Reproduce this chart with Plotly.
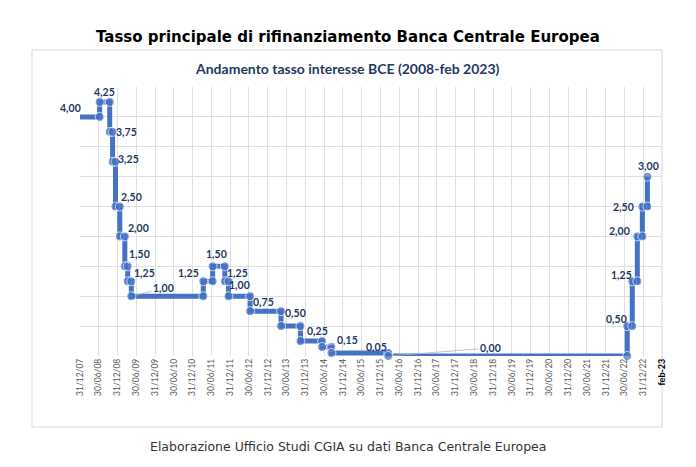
import pandas as pd
import plotly.graph_objects as go

# ---- data ----
start_date = "2007-12-31"
start_rate = 4.00
change_dates = ["2008-07-09", "2008-10-15", "2008-11-12", "2008-12-10", "2009-01-21",
                "2009-03-11", "2009-04-08", "2009-05-13", "2011-04-13", "2011-07-13",
                "2011-11-09", "2011-12-14", "2012-07-11", "2013-05-08", "2013-11-13",
                "2014-06-11", "2014-09-10", "2016-03-16", "2022-07-27", "2022-09-14",
                "2022-11-02", "2022-12-21", "2023-02-08"]
rates = [4.25, 3.75, 3.25, 2.50, 2.00, 1.50, 1.25, 1.00, 1.25, 1.50,
         1.25, 1.00, 0.75, 0.50, 0.25, 0.15, 0.05, 0.00, 0.50, 1.25,
         2.00, 2.50, 3.00]
tick_labels = ["31/12/07", "30/06/08", "31/12/08", "30/06/09", "31/12/09", "30/06/10",
               "31/12/10", "30/06/11", "31/12/11", "30/06/12", "31/12/12", "30/06/13",
               "31/12/13", "30/06/14", "31/12/14", "30/06/15", "31/12/15", "30/06/16",
               "31/12/16", "30/06/17", "31/12/17", "30/06/18", "31/12/18", "30/06/19",
               "31/12/19", "30/06/20", "31/12/20", "30/06/21", "31/12/21", "30/06/22",
               "31/12/22"]
end_label = "feb-23"
end_tick_date = "2023-06-30"

# ---- label styling (pixel offsets, leader line flag) ----
start_label_offset = (-10, -9)
label_offsets = [(5, -10), (17, 0), (16, -3), (16, -10), (19, -8),
                 (15, -12), (17, -8), (32, -8), (-15, -8), (4, -12),
                 (13, -8), (11, -11), (13, -9), (14, -13), (17, -10),
                 (25, -7), (45, -6), (102, -8), (-11, -7), (-11, -6),
                 (-18, -5), (-19, 0), (1, -11)]
leader = [False, False, False, False, False,
          True, False, True, False, False,
          True, False, True, True, False,
          True, False, True, False, False,
          False, False, False]

# ---- build step series ----
xs = [start_date]
ys = [start_rate]
prev = start_rate
for d, r in zip(change_dates, rates):
    xs += [d, d]
    ys += [prev, r]
    prev = r
sizes = [0] + [9] * (len(xs) - 1)

BLUE = "#4472C4"
NAVY = "#1F3864"

fig = go.Figure()
fig.add_trace(go.Scatter(
    x=xs, y=ys, mode="lines+markers",
    line=dict(color=BLUE, width=5),
    marker=dict(color=BLUE, size=sizes),
    cliponaxis=False, hoverinfo="skip", showlegend=False,
))

def fmt(v):
    return f"{v:.2f}".replace(".", ",")

annotations = []
lab_font = dict(family="Lato, Open Sans, sans-serif", size=10.5, color=NAVY)
annotations.append(dict(
    x=start_date, y=start_rate, text="<b>" + fmt(start_rate) + "</b>",
    showarrow=True, arrowcolor="rgba(0,0,0,0)", arrowhead=0,
    ax=start_label_offset[0], ay=start_label_offset[1], font=lab_font))
for d, r, (ax, ay), ld in zip(change_dates, rates, label_offsets, leader):
    annotations.append(dict(
        x=d, y=r, text="<b>" + fmt(r) + "</b>",
        showarrow=True, arrowhead=0, arrowwidth=0.8,
        arrowcolor="#b8b8b8" if ld else "rgba(0,0,0,0)",
        standoff=4,
        ax=ax, ay=ay, font=lab_font))

# layout helpers: page pixel coordinates (page body has 8px margin)
OFF = 8
W, H = 696 - 2 * OFF, 467 - 2 * OFF
L, R, T, B = 80 - OFF, 662 - OFF, 87 - OFF, 356 - OFF
def px(xp):
    return (xp - OFF - L) / (R - L)
def py(yp):
    return (B - (yp - OFF)) / (B - T)

annotations += [
    dict(xref="paper", yref="paper", x=px(348), y=py(37), showarrow=False,
         xanchor="center", yanchor="middle",
         text="<b>Tasso principale di rifinanziamento Banca Centrale Europea</b>",
         font=dict(family="DejaVu Sans", size=15, color="black")),
    dict(xref="paper", yref="paper", x=px(347), y=py(68), showarrow=False,
         xanchor="center", yanchor="middle",
         text="<b>Andamento tasso interesse BCE (2008-feb 2023)</b>",
         font=dict(family="Lato, sans-serif", size=14, color=NAVY)),
    dict(xref="paper", yref="paper", x=px(348), y=py(447), showarrow=False,
         xanchor="center", yanchor="middle",
         text="Elaborazione Ufficio Studi CGIA su dati Banca Centrale Europea",
         font=dict(family="DejaVu Sans", size=12.5, color="#333333")),
]

tick_dates = [pd.to_datetime(t, format="%d/%m/%y") for t in tick_labels] + [pd.Timestamp(end_tick_date)]
tick_text = list(tick_labels) + ["<b><span style='color:black;font-size:9px'>" + end_label + "</span></b>"]

fig.update_layout(
    width=W, height=H,
    margin=dict(l=L, r=W - R, t=T, b=H - B),
    paper_bgcolor="white", plot_bgcolor="white",
    annotations=annotations,
    shapes=[dict(type="rect", xref="paper", yref="paper",
                 x0=px(32), x1=px(662), y0=py(427), y1=py(50),
                 line=dict(color="#d9d9d9", width=1), layer="below")],
    xaxis=dict(type="date", range=[start_date, end_tick_date],
               tickvals=tick_dates, ticktext=tick_text, tickangle=-90,
               tickfont=dict(family="Lato, sans-serif", size=8.5, color="#595959"),
               showgrid=True, gridcolor="#e0e0e0", gridwidth=1,
               zeroline=False, showline=False, ticks=""),
    yaxis=dict(range=[0, 4.5], dtick=0.5, showticklabels=False,
               showgrid=True, gridcolor="#e0e0e0", gridwidth=1,
               zeroline=False, showline=False, ticks=""),
)

fig.write_html("out.html")
